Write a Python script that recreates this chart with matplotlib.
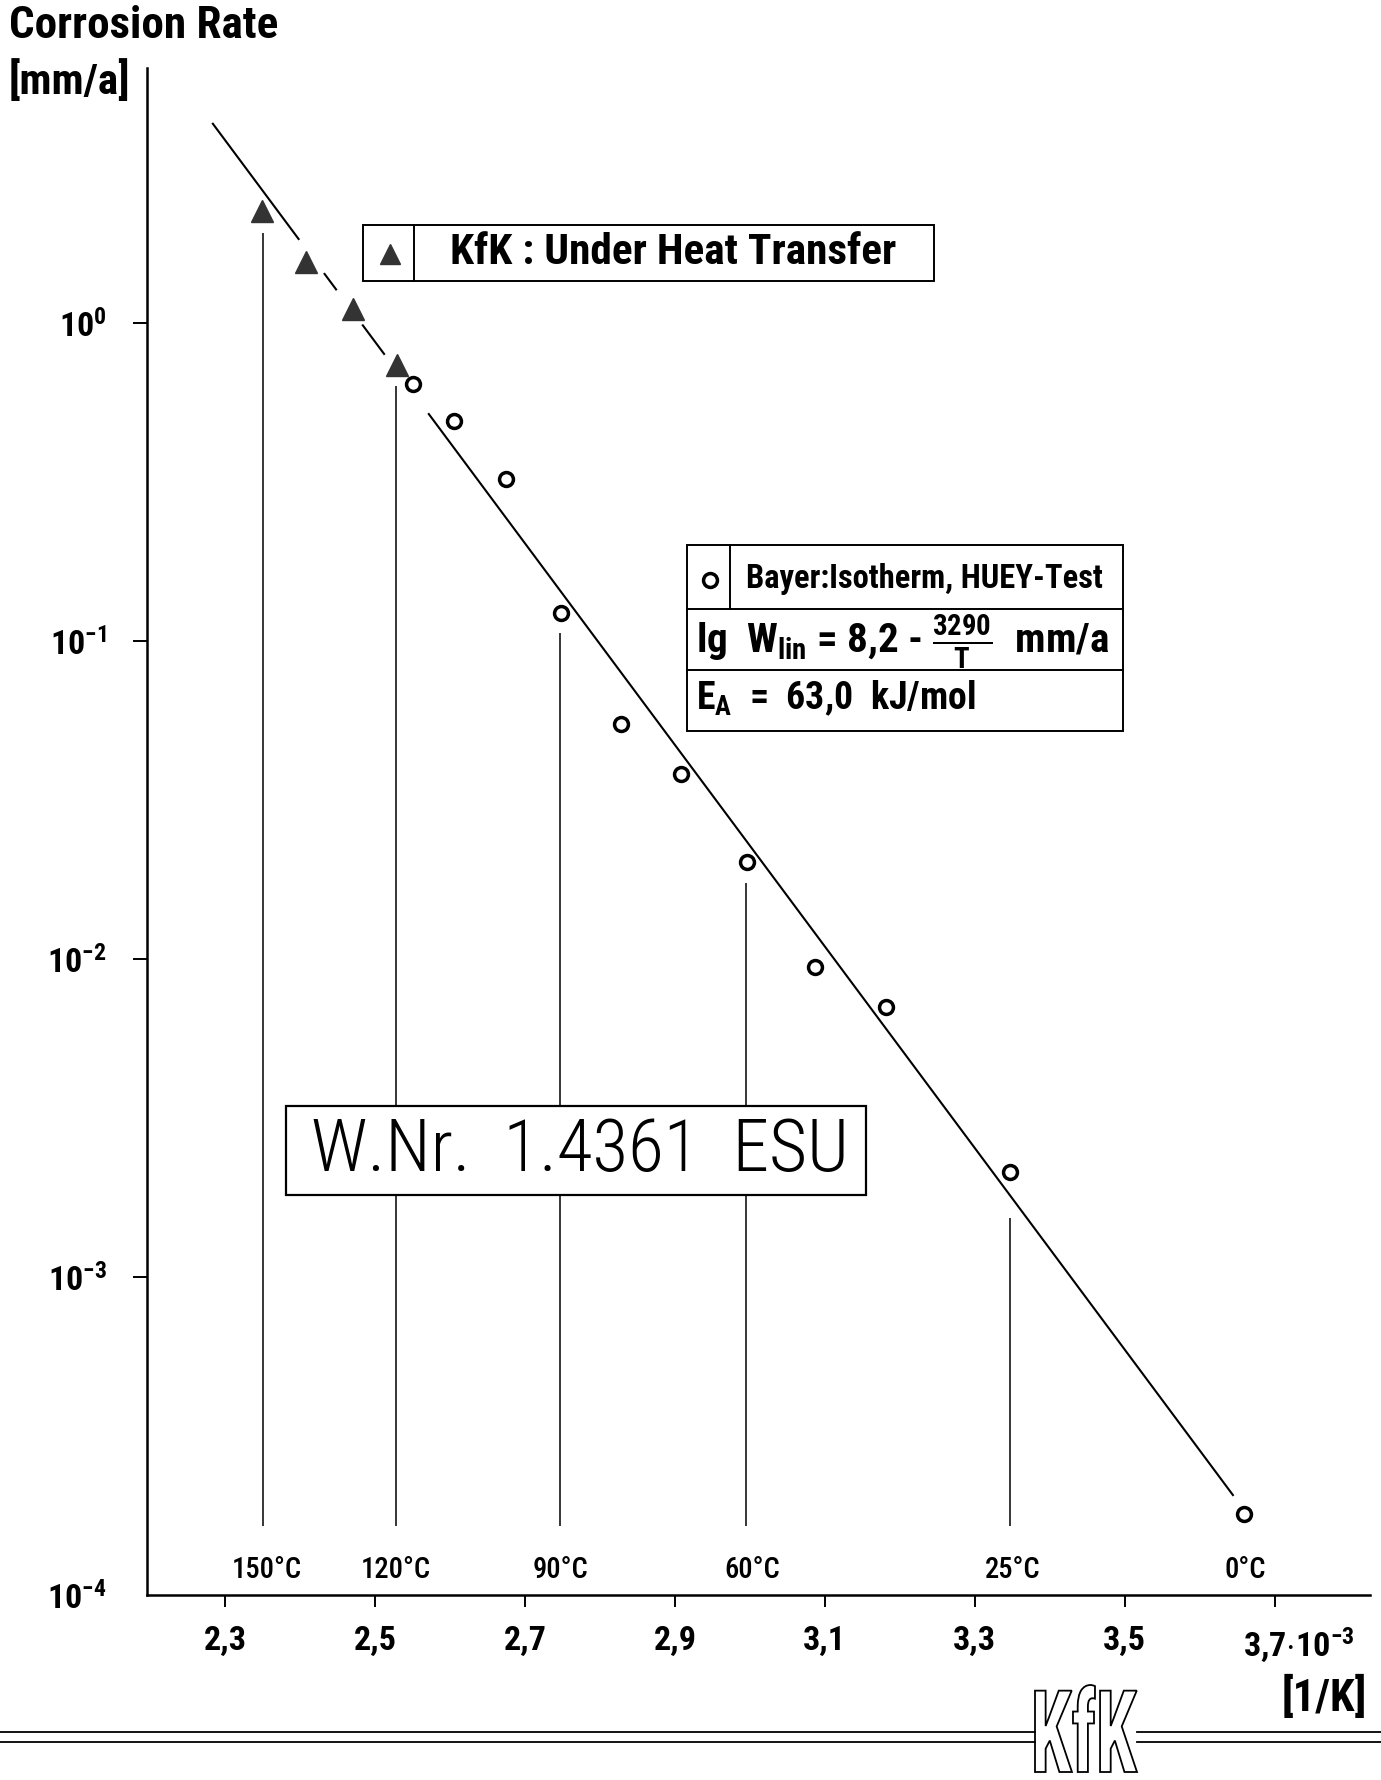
import numpy as np
import matplotlib
matplotlib.use("Agg")
import matplotlib.pyplot as plt
from matplotlib import font_manager
from matplotlib.patches import Rectangle, PathPatch
from matplotlib.lines import Line2D
from matplotlib.textpath import TextPath
from matplotlib.font_manager import FontProperties
from matplotlib.transforms import Affine2D
from matplotlib.ticker import NullLocator

# values, x in 10^-3 1/K, rate in mm/a
kfk_x = [2.349, 2.408, 2.471, 2.529]
kfk_rate = [2.25, 1.56, 1.11, 0.738]

bayer_x = [2.551, 2.605, 2.675, 2.748, 2.828, 2.908, 2.996, 3.087, 3.181, 3.347, 3.659]
bayer_rate = [0.643, 0.492, 0.323, 0.1225, 0.0548, 0.0382, 0.0202, 0.00944, 0.00706, 0.00214, 0.000180]

# regression line (end points) and the pieces that are actually drawn
fit_x = [2.283, 3.645]
fit_rate = [4.26, 2.05e-4]
fit_pieces = [(2.283, 2.399), (2.432, 2.449), (2.483, 2.513), (2.571, 3.645)]

# temperature marks
temp_labels = ["150°C", "120°C", "90°C", "60°C", "25°C", "0°C"]
temp_x = [2.356, 2.528, 2.747, 3.003, 3.350, 3.660]
temp_label_y = 1.2e-4
guide_x = [2.351, 2.528, 2.747, 2.995, 3.347]
guide_top = [1.92, 0.634, 0.106, 0.01734, 0.00153]
guide_bottom = 1.65e-4

xticks = [2.3, 2.5, 2.7, 2.9, 3.1, 3.3, 3.5, 3.7]
xtick_labels = ["2,3", "2,5", "2,7", "2,9", "3,1", "3,3", "3,5", ""]
last_xlabel = r"3,7$\cdot$10$^{\mathbf{-3}}$"
yticks = [1e-4, 1e-3, 1e-2, 1e-1, 1e0]
ytick_labels = [r"10$^{\mathbf{-4}}$", r"10$^{\mathbf{-3}}$", r"10$^{\mathbf{-2}}$",
                r"10$^{\mathbf{-1}}$", r"10$^{\mathbf{0}}$"]

# look for a narrow face, the original uses stencil lettering
entries = font_manager.fontManager.ttflist
FONT, STRETCH = "DejaVu Sans", "normal"
for want in ["Liberation Sans Narrow", "Roboto Condensed", "Open Sans Condensed",
             "Noto Sans Condensed", "DejaVu Sans Condensed"]:
    if any(e.name == want for e in entries):
        FONT = want
        break
else:
    for fam in ["DejaVu Sans", "Noto Sans", "Open Sans", "Roboto"]:
        if any(e.name == fam and e.stretch in ("condensed", "semi-condensed") for e in entries):
            FONT, STRETCH = fam, "condensed"
            break

plt.rcParams["font.family"] = [FONT, "DejaVu Sans"]
plt.rcParams["font.stretch"] = STRETCH
plt.rcParams["mathtext.fontset"] = "custom"
tail = ":condensed" if STRETCH == "condensed" else ""
plt.rcParams["mathtext.rm"] = FONT + tail
plt.rcParams["mathtext.it"] = FONT + tail
plt.rcParams["mathtext.bf"] = FONT + tail + ":bold"

W, H = 1381, 1780
fig = plt.figure(figsize=(W / 100, H / 100), dpi=100)
renderer = fig.canvas.get_renderer()


def fx(px):
    return px / W


def fy(py):
    return 1 - py / H


def fit_size(s, width_px, weight="normal", base=20.0):
    # font size that makes text s about width_px wide
    t = fig.text(0, 0, s, fontsize=base, fontweight=weight)
    w = t.get_window_extent(renderer).width
    t.remove()
    return base * width_px / w


# axes box in pixels: left 147, right 1370, top 68, bottom 1595
ax = fig.add_axes([fx(147), fy(1595), fx(1370) - fx(147), fy(68) - fy(1595)])
ax.set_yscale("log")
ax.set_xlim(2.196, 3.827)
ax.set_ylim(1e-4, 6.34)

for s in ["top", "right"]:
    ax.spines[s].set_visible(False)
for s in ["left", "bottom"]:
    ax.spines[s].set_linewidth(1.8)

xsize = fit_size("2,3", 43, "bold")
ysize = fit_size(r"10$^{\mathbf{0}}$", 48, "bold")
ax.set_xticks(xticks, xtick_labels)
ax.set_yticks(yticks, ytick_labels)
ax.yaxis.set_minor_locator(NullLocator())
ax.tick_params(axis="x", length=8.5, width=1.4, pad=13, labelsize=xsize)
ax.tick_params(axis="y", length=10, width=1.4, pad=19, labelsize=ysize)
for lbl in ax.get_xticklabels() + ax.get_yticklabels():
    lbl.set_fontweight("bold")
ax.yaxis.get_major_ticks()[0].tick1line.set_visible(False)
ax.annotate(last_xlabel, xy=(3.7, 0), xycoords=("data", "axes fraction"),
            xytext=(-23, -21.5), textcoords="offset points", ha="left", va="top",
            fontsize=xsize, fontweight="bold")

# regression line, broken around the triangles
lx0, lx1 = fit_x
ly0, ly1 = np.log10(fit_rate)
for a, b in fit_pieces:
    xs = np.array([a, b])
    ys = 10 ** (ly0 + (xs - lx0) * (ly1 - ly0) / (lx1 - lx0))
    ax.plot(xs, ys, color="black", lw=1.5, solid_capstyle="butt")

ax.vlines(guide_x, guide_bottom, guide_top, color="black", lw=1.1)

ax.plot(kfk_x, kfk_rate, linestyle="none", marker="^", ms=16, color="#333333",
        mec="#333333")
ax.plot(bayer_x, bayer_rate, linestyle="none", marker="o", ms=10, mfc="white",
        mec="black", mew=2.5)

tsize = fit_size("150°C", 70, "medium")
for t, x in zip(temp_labels, temp_x):
    ax.text(x, temp_label_y, t, ha="center", va="center", fontsize=tsize,
            fontweight="medium")

# axis titles
fig.text(fx(9), fy(26), "Corrosion Rate", ha="left", va="center",
         fontsize=fit_size("Corrosion Rate", 269, "bold"), fontweight="bold")
fig.text(fx(9), fy(82), "[mm/a]", ha="left", va="center",
         fontsize=fit_size("[mm/a]", 121, "bold"), fontweight="bold")
fig.text(fx(1367), fy(1698), "[1/K]", ha="right", va="center",
         fontsize=fit_size("[1/K]", 85, "bold"), fontweight="bold")

# legend box 1
fig.add_artist(Rectangle((fx(363), fy(281)), fx(934) - fx(363), fy(225) - fy(281),
                         transform=fig.transFigure, fc="white", ec="black", lw=1.4))
fig.add_artist(Line2D([fx(414), fx(414)], [fy(225), fy(281)], transform=fig.transFigure,
                      color="black", lw=1.4))
fig.add_artist(Line2D([fx(390)], [fy(254)], transform=fig.transFigure, marker="^",
                      ms=14, color="#333333", linestyle="none"))
s1 = "KfK : Under Heat Transfer"
fig.text(fx(450), fy(253), s1, ha="left", va="center",
         fontsize=fit_size(s1, 446, "bold"), fontweight="bold")

# legend box 2
fig.add_artist(Rectangle((fx(687), fy(731)), fx(1123) - fx(687), fy(545) - fy(731),
                         transform=fig.transFigure, fc="white", ec="black", lw=1.4))
for yy in [609, 670]:
    fig.add_artist(Line2D([fx(687), fx(1123)], [fy(yy), fy(yy)], transform=fig.transFigure,
                          color="black", lw=1.4))
fig.add_artist(Line2D([fx(730), fx(730)], [fy(545), fy(609)], transform=fig.transFigure,
                      color="black", lw=1.4))
fig.add_artist(Line2D([fx(710)], [fy(580)], transform=fig.transFigure, marker="o",
                      ms=10, mfc="white", mec="black", mew=2.5, linestyle="none"))
s2 = "Bayer:Isotherm, HUEY-Test"
s3 = r"lg  W$_{\mathbf{lin}}$ = 8,2 - $\mathbf{\frac{3290}{T}}$  mm/a"
s4 = r"E$_{\mathbf{A}}$  =  63,0  kJ/mol"
fig.text(fx(746), fy(579), s2, ha="left", va="center",
         fontsize=fit_size(s2, 356, "bold"), fontweight="bold")
fig.text(fx(696), fy(642), s3, ha="left", va="center",
         fontsize=fit_size(s3, 414, "bold"), fontweight="bold")
fig.text(fx(696), fy(698), s4, ha="left", va="center",
         fontsize=fit_size(s4, 280, "bold"), fontweight="bold")

# material box
s5 = "W.Nr.  1.4361  ESU"
fig.add_artist(Rectangle((fx(286), fy(1195)), fx(866) - fx(286), fy(1106) - fy(1195),
                         transform=fig.transFigure, fc="white", ec="black", lw=1.6,
                         zorder=3))
fig.text(fx(580), fy(1151), s5, ha="center", va="center",
         fontsize=fit_size(s5, 537, "light"), fontweight="light", zorder=4)

# footer: double rule with KfK logo
for yy in [1732, 1742]:
    fig.add_artist(Line2D([0, fx(1035)], [fy(yy), fy(yy)], transform=fig.transFigure,
                          color="black", lw=1.3))
    fig.add_artist(Line2D([fx(1137), 1], [fy(yy), fy(yy)], transform=fig.transFigure,
                          color="black", lw=1.3))
logo = TextPath((0, 0), "KfK", size=100,
                prop=FontProperties(family=FONT, weight="bold", stretch=STRETCH))
ext = logo.get_extents()
to_box = (Affine2D().translate(-ext.x0, -ext.y0)
          .scale((1137 - 1035) / ext.width, (1772 - 1685) / ext.height)
          .translate(1035, H - 1772).scale(1 / 100) + fig.dpi_scale_trans)
fig.add_artist(PathPatch(logo, transform=to_box, fc="white", ec="black", lw=1.3))

fig.savefig("out.png", dpi=100)
